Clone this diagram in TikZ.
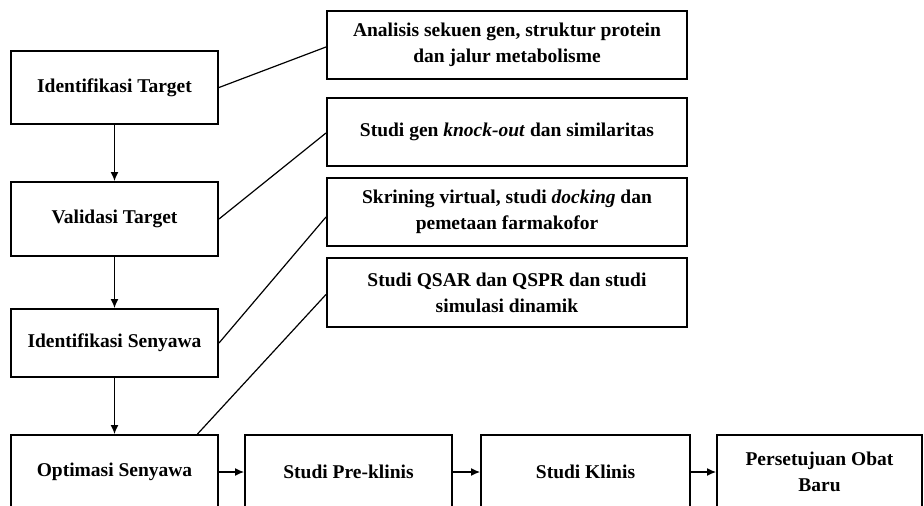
\documentclass[tikz,border=0pt]{standalone}
\usepackage{fontspec}
\setmainfont{Liberation Serif}
\usetikzlibrary{arrows.meta,positioning}

\begin{document}
\begin{tikzpicture}[
  x=1pt, y=1pt,
  font=\fontsize{19.5}{26}\selectfont\bfseries,
  box/.style={rectangle, draw, line width=2pt, align=center, inner sep=2pt,
              minimum width=207pt, minimum height=74pt, fill=white},
  infobox/.style={box, minimum width=360pt, minimum height=68pt},
  arr/.style={-{Latex[length=9pt,width=8pt]}, line width=1.2pt},
  lnk/.style={line width=1.2pt},
]
\clip (0,0) rectangle (924,-506);

% tahapan utama
\node[box, minimum height=73pt] (idt) at (114.5,-87.5) {Identifikasi Target};
\node[box, below=56pt of idt]                     (valt) {Validasi Target};
\node[box, below=51pt of valt, minimum height=68pt] (ids)  {Identifikasi Senyawa};
\node[box, below=56pt of ids]                     (opt)  {Optimasi Senyawa};
\node[box, right=25pt of opt]                     (pre)  {Studi Pre-klinis};
\node[box, right=27pt of pre, minimum width=209pt] (kli) {Studi Klinis};
\node[box, right=25pt of kli, minimum width=205pt] (obat) {Persetujuan Obat\\Baru};

% keterangan tiap tahap
\node[infobox] (seq) at (507,-45) {Analisis sekuen gen, struktur protein\\
                                    dan jalur metabolisme};
\node[infobox, below=17pt of seq] (ko)   {Studi gen \textit{knock-out} dan similaritas};
\node[infobox, below=10pt of ko]  (dock) {Skrining virtual, studi \textit{docking} dan\\
                                          pemetaan farmakofor};
\node[infobox, below=10pt of dock, minimum height=69pt] (qsar) {Studi QSAR dan QSPR dan studi\\
                                          simulasi dinamik};

\draw[arr] (idt)  -- (valt);
\draw[arr] (valt) -- (ids);
\draw[arr] (ids)  -- (opt);
\draw[arr] (opt)  -- (pre);
\draw[arr] (pre)  -- (kli);
\draw[arr] (kli)  -- (obat);

\draw[lnk] (idt.east)  -- ([yshift=-2pt]seq.west);
\draw[lnk] (valt.east) -- ([yshift=-1pt]ko.west);
\draw[lnk] (ids.east)  -- ([yshift=-5pt]dock.west);
\draw[lnk] ([xshift=83pt]opt.north) -- ([yshift=-2pt]qsar.west);

\end{tikzpicture}
\end{document}
